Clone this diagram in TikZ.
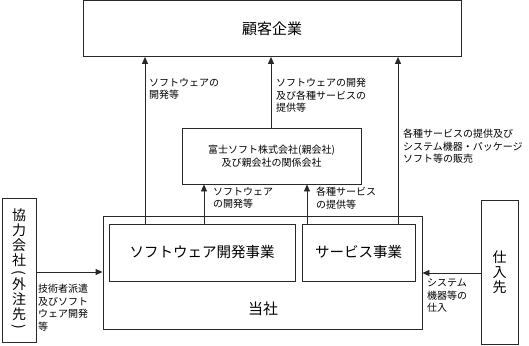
\documentclass[tikz,border=0pt]{standalone}
\usepackage{fontspec}
\setmainfont{Noto Sans CJK JP}
\usetikzlibrary{arrows.meta}
\definecolor{LineGray}{RGB}{40,40,40}
\tikzset{
  orgbox/.style={draw=LineGray, line width=0.8pt, inner sep=0pt, align=center,
    font=\fontsize{14.5}{16}\selectfont},
  vbox/.style={orgbox, minimum height=144pt, font=\fontsize{14}{15}\selectfont},
  flowarrow/.style={-{Triangle[length=7pt,width=6pt]}, line width=0.8pt, LineGray},
  flowlabel/.style={anchor=north west, inner sep=0pt, align=left,
    font=\fontsize{10}{12.5}\selectfont},
}
\newcommand{\vparl}{\rotatebox[origin=c]{-90}{(}}
\newcommand{\vparr}{\rotatebox[origin=c]{-90}{)}}

\begin{document}
\begin{tikzpicture}[x=1pt,y=-1pt]
  \useasboundingbox (0,0) rectangle (529,345);
  % boxes
  \node[orgbox, minimum width=378pt, minimum height=56pt, font=\fontsize{15}{16}\selectfont] (kokyaku) at (272,28.5) {顧客企業};
  \node[orgbox, minimum width=179pt, minimum height=56pt, font=\fontsize{10}{13}\selectfont] (fuji) at (271.5,156)
    {富士ソフト株式会社(親会社)\\及び親会社の関係会社};
  \node[orgbox, minimum width=319pt, minimum height=113pt] (tosha) at (262.5,272.5) {};
  \node[font=\fontsize{15}{16}\selectfont, inner sep=0pt] (toshalabel) at (263,309) {当社};
  \node[orgbox, minimum width=186pt, minimum height=57pt] (soft) at (202,252.5) {ソフトウェア開発事業};
  \node[orgbox, minimum width=113pt, minimum height=57pt] (service) at (358.5,252.5) {サービス事業};
  \node[vbox, minimum width=34pt] (kyoryoku) at (19,270)
    {協\\力\\会\\社\\[-3pt]\vparl\\[-3pt]外\\注\\先\\[-3pt]\vparr};
  \node[vbox, minimum width=37pt] (shiire) at (499.5,272) {仕\\入\\先};

  % arrows
  \coordinate (xa) at (145,0);
  \coordinate (xb) at (271,0);
  \coordinate (xc) at (398,0);
  \coordinate (xd) at (204,0);
  \coordinate (xe) at (307,0);
  \draw[flowarrow] (soft.north -| xa) -- (kokyaku.south -| xa);
  \draw[flowarrow] (fuji.north -| xb) -- (kokyaku.south -| xb);
  \draw[flowarrow] (service.north -| xc) -- (kokyaku.south -| xc);
  \draw[flowarrow] (soft.north -| xd) -- (fuji.south -| xd);
  \draw[flowarrow] (service.north -| xe) -- (fuji.south -| xe);
  \draw[flowarrow] (kyoryoku.east |- 0,272) -- (tosha.west |- 0,272);
  \draw[flowarrow] (shiire.west |- 0,273) -- (tosha.east |- 0,273);

  % labels
  \node[flowlabel] (lsoft) at (149,78) {ソフトウェアの\\開発等};
  \node[flowlabel] (lfuji) at (276,78) {ソフトウェアの開発\\及び各種サービスの\\提供等};
  \node[flowlabel] (lservice) at (403,129) {各種サービスの提供及び\\システム機器・パッケージ\\ソフト等の販売};
  \node[flowlabel] (lsoftfuji) at (213,187) {ソフトウェア\\の開発等};
  \node[flowlabel] (lservicefuji) at (316,187) {各種サービス\\の提供等};
  \node[flowlabel] (lkyoryoku) at (38,284) {技術者派遣\\及びソフト\\ウェア開発\\等};
  \node[flowlabel] (lshiire) at (427,279) {システム\\機器等の\\仕入};
\end{tikzpicture}
\end{document}
